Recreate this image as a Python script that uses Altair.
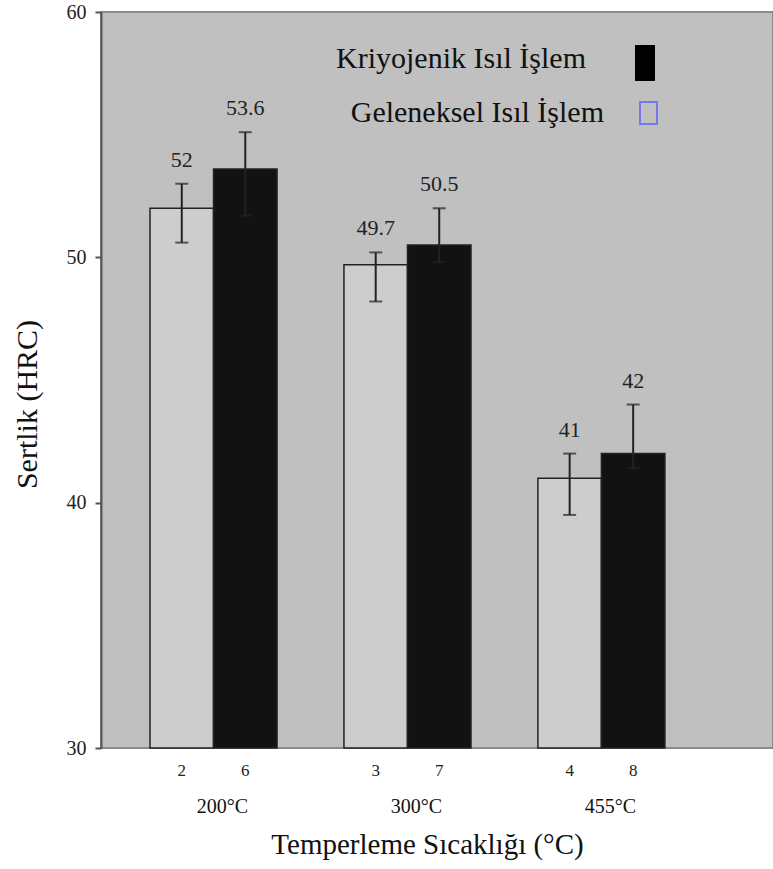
import altair as alt
import pandas as pd

# ---- data ----
groups = ["200°C", "300°C", "455°C"]
treatments = ["Geleneksel Isıl İşlem", "Kriyojenik Isıl İşlem"]
values_gel = [52.0, 49.7, 41.0]
values_kri = [53.6, 50.5, 42.0]
labels_gel = ["52", "49.7", "41"]
labels_kri = ["53.6", "50.5", "42"]
err_low_gel = [50.6, 48.2, 39.5]
err_high_gel = [53.0, 50.2, 42.0]
err_low_kri = [51.7, 49.8, 41.4]
err_high_kri = [55.1, 52.0, 44.0]
sample_gel = ["2", "3", "4"]
sample_kri = ["6", "7", "8"]

rows = []
for i, g in enumerate(groups):
    rows.append(dict(group=g, treat=treatments[0], value=values_gel[i], label=labels_gel[i],
                     low=err_low_gel[i], high=err_high_gel[i], sample=sample_gel[i], base=30))
    rows.append(dict(group=g, treat=treatments[1], value=values_kri[i], label=labels_kri[i],
                     low=err_low_kri[i], high=err_high_kri[i], sample=sample_kri[i], base=30))
df = pd.DataFrame(rows)

FONT = "Liberation Serif"
x_enc = alt.X("group:N", sort=groups,
              scale=alt.Scale(paddingInner=0.345, paddingOuter=0.405, align=0.312),
              axis=alt.Axis(title="Temperleme Sıcaklığı (°C)", labelAngle=0, domain=False, ticks=False,
                            labelPadding=48, labelOffset=9, labelFontSize=20, labelColor="#111",
                            labelFont=FONT,
                            titleFont=FONT, titleFontSize=29, titleFontWeight="normal",
                            titleColor="#111", titlePadding=14, titleX=326, titleAlign="center"))
xoff = alt.XOffset("treat:N", sort=treatments, scale=alt.Scale(paddingInner=0, paddingOuter=0))
y_scale = alt.Scale(domain=[30, 60], nice=False, zero=False)
y_axis = alt.Axis(title="Sertlik (HRC)", values=[30, 40, 50, 60], grid=False,
                  domainColor="#555", domainWidth=2, tickColor="#555", tickWidth=2, tickSize=6,
                  labelFont=FONT, labelFontSize=20, labelColor="#222", labelPadding=9,
                  titleFont=FONT, titleFontSize=30, titleFontWeight="normal", titleColor="#111",
                  titleAngle=270, titleX=-74, titleY=392, titleAlign="center", titleBaseline="middle")

base = alt.Chart(df)

bars = base.mark_bar(stroke="#222", strokeWidth=1.5).encode(
    x=x_enc, xOffset=xoff,
    y=alt.Y("value:Q", scale=y_scale, axis=y_axis),
    y2=alt.Y2("base:Q"),
    color=alt.Color("treat:N", sort=treatments,
                    scale=alt.Scale(domain=treatments, range=["#cdcdcd", "#121212"]), legend=None),
)

err = base.mark_rule(color="#222", strokeWidth=2).encode(
    x=alt.X("group:N", sort=groups), xOffset=xoff,
    y=alt.Y("low:Q", scale=y_scale), y2="high:Q")

cap_hi = base.mark_tick(color="#222", thickness=2, size=13).encode(
    x=alt.X("group:N", sort=groups), xOffset=xoff, y=alt.Y("high:Q", scale=y_scale))
cap_lo = base.mark_tick(color="#222", thickness=2, size=13).encode(
    x=alt.X("group:N", sort=groups), xOffset=xoff, y=alt.Y("low:Q", scale=y_scale))

vlabels = base.mark_text(font=FONT, fontSize=22, color="#222", baseline="alphabetic", dy=-17).encode(
    x=alt.X("group:N", sort=groups), xOffset=xoff, y=alt.Y("high:Q", scale=y_scale), text="label:N")

slabels = base.mark_text(font=FONT, fontSize=17, color="#222", baseline="middle", dy=23).encode(
    x=alt.X("group:N", sort=groups), xOffset=xoff, y=alt.Y("base:Q", scale=y_scale), text="sample:N")

# ---- custom legend ----
leg = pd.DataFrame({"name": treatments})
leg_k = alt.Chart(leg).transform_filter(alt.datum.name == treatments[1])
leg_g = alt.Chart(leg).transform_filter(alt.datum.name == treatments[0])

leg_text_k = leg_k.mark_text(font=FONT, fontSize=30, color="#111", align="right", baseline="middle").encode(
    x=alt.value(485), y=alt.value(47), text="name:N")
leg_text_g = leg_g.mark_text(font=FONT, fontSize=30, color="#111", align="right", baseline="middle").encode(
    x=alt.value(503), y=alt.value(101), text="name:N")
leg_rect_k = leg_k.mark_rect(color="#000").encode(
    x=alt.value(534), x2=alt.value(554), y=alt.value(33), y2=alt.value(69))
leg_rect_g = leg_g.mark_rect(fill="transparent", stroke="#7777ee", strokeWidth=2).encode(
    x=alt.value(539), x2=alt.value(556), y=alt.value(90), y2=alt.value(112))

chart = alt.layer(bars, err, cap_hi, cap_lo, vlabels, slabels,
                  leg_text_k, leg_text_g, leg_rect_k, leg_rect_g).properties(
    width=672, height=736,
    autosize=alt.AutoSizeParams(type="none"),
    padding={"left": 101, "right": 0, "top": 12, "bottom": 121},
    background="white",
).configure_view(fill="#c0c0c0", stroke="#8a8a8a", strokeWidth=2)

chart.save("out.html", embed_options={"renderer": "svg", "actions": False})
